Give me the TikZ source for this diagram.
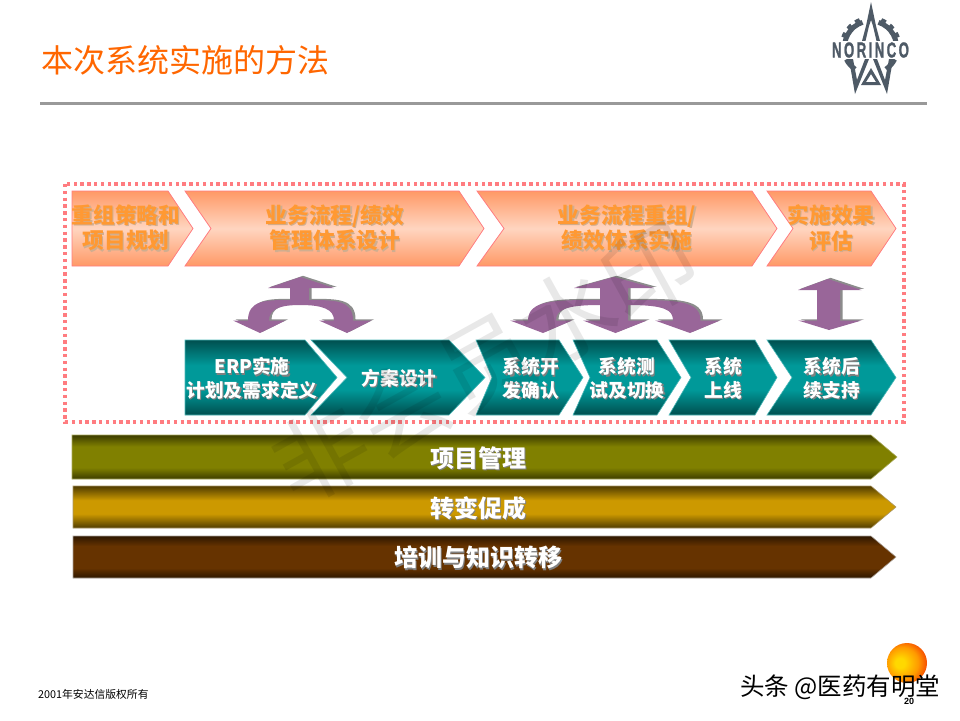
\documentclass[tikz,border=0pt]{standalone}
\usepackage{fontspec}
\setmainfont{Noto Sans CJK SC}
\newfontfamily\latinb{Liberation Sans}
\definecolor{pinkd}{HTML}{FF7C80}
\definecolor{orgT}{HTML}{FF9966}
\definecolor{orgM}{HTML}{FFD5C0}
\definecolor{orgTx}{HTML}{FF9933}
\definecolor{orgSh}{HTML}{D0AE90}
\definecolor{tealE}{HTML}{004F4F}
\definecolor{tealM}{HTML}{009999}
\definecolor{purp}{HTML}{996699}
\definecolor{logoc}{HTML}{4E5A66}
\definecolor{titlec}{HTML}{FF6600}
\definecolor{olvE}{HTML}{3C3C00}
\definecolor{olvM}{HTML}{808000}
\definecolor{golE}{HTML}{503C00}
\definecolor{golM}{HTML}{CC9900}
\definecolor{brnE}{HTML}{2E1700}
\definecolor{brnM}{HTML}{663300}
\definecolor{sunA}{HTML}{FFD800}
\definecolor{sunB}{HTML}{FF9A00}
\definecolor{sunC}{HTML}{F01C00}
\pgfdeclareverticalshading{tealsh}{100bp}{color(0bp)=(tealE); color(25bp)=(tealE); color(42bp)=(tealM); color(58bp)=(tealM); color(75bp)=(tealE); color(100bp)=(tealE)}
\pgfdeclareverticalshading{olvsh}{100bp}{color(0bp)=(olvE); color(25bp)=(olvE); color(38bp)=(olvM); color(62bp)=(olvM); color(75bp)=(olvE); color(100bp)=(olvE)}
\pgfdeclareverticalshading{golsh}{100bp}{color(0bp)=(golE); color(25bp)=(golE); color(42bp)=(golM); color(58bp)=(golM); color(75bp)=(golE); color(100bp)=(golE)}
\pgfdeclareverticalshading{brnsh}{100bp}{color(0bp)=(brnE); color(25bp)=(brnE); color(37bp)=(brnM); color(63bp)=(brnM); color(75bp)=(brnE); color(100bp)=(brnE)}
\pgfdeclareradialshading{sunsh}{\pgfpoint{-10bp}{0bp}}{color(0bp)=(sunA); color(6bp)=(sunA); color(20bp)=(sunB); color(35bp)=(sunC); color(50bp)=(sunC)}
\newcommand{\shtxt}[2]{\leavevmode\rlap{\raisebox{-1.3pt}{\kern1.3pt\textcolor{#1}{#2}}}#2}
\tikzset{
 orgchev/.style={draw=pinkd,line width=.8pt,top color=orgT,bottom color=orgT,middle color=orgM},
 tealchev/.style={draw=tealM!70!white,line width=.6pt,shading=tealsh},
 orglbl/.style={font=\bfseries\fontsize{21.7}{25.5}\selectfont,text=orgTx,align=center,inner sep=0pt},
 teallbl/.style={font=\bfseries\fontsize{18.7}{23.5}\selectfont,text=white,align=center,inner sep=0pt},
 barlbl/.style={font=\bfseries\fontsize{24}{28}\selectfont,text=white,align=center,inner sep=0pt},
 arrowfill/.style={fill=purp},
 arrowshadow/.style={fill=gray!90,shift={(2.5pt,1.2pt)}},
 logoline/.style={logoc,line width=5pt,line cap=butt},
 logotooth/.style={logoc,line width=3pt,dash pattern=on 5pt off 5pt},
}
\begin{document}
\begin{tikzpicture}[x=1pt,y=-1pt]
\useasboundingbox (0,0) rectangle (960,720);
% title
\node[anchor=west,inner sep=0pt,text=titlec,font=\fontsize{32}{36}\selectfont] (title) at (41,60) {本次系统实施的方法};
\draw[color=gray!80,line width=3pt] (40,103.5) -- (927,103.5);
% dotted frame
\draw[pinkd,line width=3.4pt,dash pattern=on 3.4pt off 3.4pt] (65,184) rectangle (904,422);
% orange chevrons
\path[orgchev] (72,191) -- (168,191) -- (193,228.5) -- (168,266) -- (72,266) -- cycle;
\path[orgchev] (185,191) -- (459,191) -- (484,228.5) -- (459,266) -- (185,266) -- (211,228.5) -- cycle;
\path[orgchev] (477,191) -- (752,191) -- (777,228.5) -- (752,266) -- (477,266) -- (504,228.5) -- cycle;
\path[orgchev] (767,191) -- (871,191) -- (896,228.5) -- (871,266) -- (767,266) -- (793,228.5) -- cycle;
\node[orglbl] (o1) at (126,228.5) {\shtxt{orgSh}{重组策略和}\\\shtxt{orgSh}{项目规划}};
\node[orglbl] (o2) at (335,228.5) {\shtxt{orgSh}{业务流程/绩效}\\\shtxt{orgSh}{管理体系设计}};
\node[orglbl] (o3) at (627,228.5) {\shtxt{orgSh}{业务流程重组/}\\\shtxt{orgSh}{绩效体系实施}};
\node[orglbl] (o4) at (831,228.5) {\shtxt{orgSh}{实施效果}\\\shtxt{orgSh}{评估}};
% teal chevrons
\path[tealchev] (185,340) -- (305,340) -- (337,377.5) -- (305,415) -- (185,415) -- cycle;
\path[tealchev] (311,340) -- (449,340) -- (485,377.5) -- (449,415) -- (311,415) -- (347,377.5) -- cycle;
\path[tealchev] (476,340) -- (559,340) -- (583,377.5) -- (559,415) -- (476,415) -- (492,377.5) -- cycle;
\path[tealchev] (573,340) -- (657,340) -- (681,377.5) -- (657,415) -- (573,415) -- (590,377.5) -- cycle;
\path[tealchev] (669,340) -- (755,340) -- (777,377.5) -- (755,415) -- (669,415) -- (691,377.5) -- cycle;
\path[tealchev] (767,340) -- (871,340) -- (896,377.5) -- (871,415) -- (767,415) -- (792,377.5) -- cycle;
\node[teallbl] (t1) at (252,379) {\shtxt{gray}{ERP实施}\\\shtxt{gray}{计划及需求定义}};
\node[teallbl] (t2) at (399,379) {\shtxt{gray}{方案设计}};
\node[teallbl] (t3) at (531,379) {\shtxt{gray}{系统开}\\\shtxt{gray}{发确认}};
\node[teallbl] (t4) at (627,379) {\shtxt{gray}{系统测}\\\shtxt{gray}{试及切换}};
\node[teallbl] (t5) at (723,379) {\shtxt{gray}{系统}\\\shtxt{gray}{上线}};
\node[teallbl] (t6) at (832,379) {\shtxt{gray}{系统后}\\\shtxt{gray}{续支持}};
% arrows
\newcommand{\arrowA}{(300.5,277) -- (334,288) -- (309,288) -- (309,300)
  .. controls (335,300) and (353,300) .. (353,320.5) -- (371.5,320.5) -- (347,333) -- (319,320.5) -- (334,320.5)
  .. controls (334,309) and (322,305) .. (300,305) .. controls (280,305) and (269,309) .. (269,320.5)
  -- (285.5,320.5) -- (260,333) -- (233,320.5) -- (248,320.5) .. controls (248,300) and (266,300) .. (290,300)
  -- (290,288) -- (268,288) -- cycle}
\newcommand{\arrowB}{(614,277) -- (654,288) -- (628,288) -- (628,300)
  .. controls (675,300) and (700.5,300) .. (700.5,320.5) -- (720,320.5) -- (690,333) -- (655,320.5) -- (673,320.5)
  .. controls (673,310) and (665,305) .. (628,305) -- (628,320.5) -- (647,320.5) -- (615.5,333) -- (583,320.5) -- (600,320.5)
  -- (600,305) .. controls (565,305) and (556,310) .. (556,320.5) -- (572,320.5) -- (543,333) -- (510,320.5) -- (528,320.5)
  .. controls (528,300) and (555,300) .. (600,300) -- (600,288) -- (574,288) -- cycle}
\newcommand{\arrowC}{(828,279) -- (861.5,290) -- (840,290) -- (840,320.5) -- (861.5,320.5) -- (829,330) -- (798,320.5) -- (817,320.5) -- (817,290) -- (798,290) -- cycle}
\path[arrowshadow] \arrowA;
\path[arrowshadow] \arrowB;
\path[arrowshadow] \arrowC;
\path[arrowfill] \arrowA;
\path[arrowfill] \arrowB;
\path[arrowfill] \arrowC;
% bars
\path[shading=olvsh,draw={rgb,255:red,170;green,170;blue,90},line width=.6pt] (72,435) -- (871,435) -- (897,457) -- (871,479) -- (72,479) -- cycle;
\path[shading=golsh,draw={rgb,255:red,170;green,150;blue,100},line width=.6pt] (73,486) -- (871,486) -- (896,507) -- (871,528) -- (73,528) -- cycle;
\path[shading=brnsh,draw={rgb,255:red,170;green,160;blue,150},line width=.6pt] (73,536) -- (871,536) -- (896,557) -- (871,578) -- (73,578) -- cycle;
\node[barlbl] (b1) at (478,458.5) {\shtxt{gray}{项目管理}};
\node[barlbl] (b2) at (478,508.5) {\shtxt{gray}{转变促成}};
\node[barlbl] (b3) at (478,558.5) {\shtxt{gray}{培训与知识转移}};
% logo
\draw[logoline] (862.5,22.3) arc[start angle=108,end angle=194,radius=26pt];
\draw[logoline] (878.5,22.3) arc[start angle=72,end angle=-14,radius=26pt];
\draw[logotooth] (859.5,19.6) arc[start angle=112,end angle=200,radius=29.5pt];
\draw[logotooth] (881.5,19.6) arc[start angle=68,end angle=-20,radius=29.5pt];
\draw[logoline] (846.4,59.3) arc[start angle=207,end angle=235,radius=27pt];
\draw[logoline] (894.6,59.3) arc[start angle=-27,end angle=-55,radius=27pt];
\fill[logoc] (871,2) -- (876,26) -- (880,41) -- (876.5,41) -- (873,26) -- (871,20) -- (869,26) -- (865.5,41) -- (862,41) -- (866,26) -- cycle;
\fill[logoc] (855,94) -- (849,59) -- (853,59) -- (857,80) -- (865,59) -- (869,59) -- cycle;
\fill[logoc] (887,94) -- (893,59) -- (889,59) -- (885,80) -- (877,59) -- (873,59) -- cycle;
\fill[logoc,even odd rule] (871,68) -- (881,85) -- (861,85) -- cycle (871,74) -- (866,82) -- (876,82) -- cycle;
\node[fill=white,text=logoc,inner xsep=0pt,inner ysep=1.5pt,font=\latinb\bfseries\fontsize{16}{16}\selectfont] (logo) at (870.5,50) {\resizebox{77pt}{15pt}{\addfontfeature{LetterSpace=18,FakeBold=1.5}NORINCO}};
% sun
\shade[shading=sunsh] (907,663) circle (20);
% footer
\node[anchor=west,inner sep=0pt,font=\fontsize{10.8}{12}\selectfont] (copy) at (38,694) {2001年安达信版权所有};
\node[inner sep=0pt,font=\latinb\bfseries\fontsize{9}{10}\selectfont] (pg) at (909,701) {20};
\node[anchor=west,inner sep=0pt,font=\fontsize{24.5}{26}\selectfont] (wm) at (740,687) {头条 @医药有明堂};
% watermark
\node[rotate=29,opacity=.09,inner sep=0pt,font=\fontsize{94}{96}\selectfont] (mark) at (485,362) {非会员水印};
\end{tikzpicture}
\end{document}
